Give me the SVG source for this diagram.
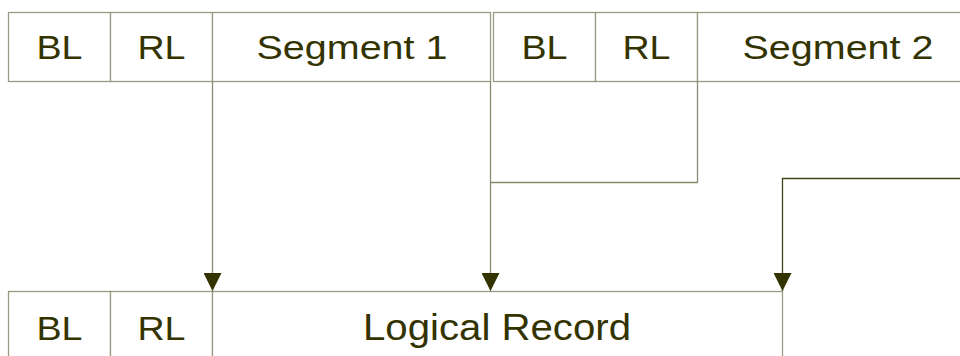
<svg xmlns="http://www.w3.org/2000/svg" width="960" height="356" viewBox="0 0 960 356">
  <style>
    .cell { fill: #ffffff; stroke: #9a9a82; stroke-width: 1.3; }
    .lbl { font-family: "Liberation Sans", Arial, sans-serif; font-size: 34px; fill: #333300; text-anchor: middle; }
    .big { font-size: 36px; }
    .conn { fill: none; stroke: #8a8a70; stroke-width: 1.3; }
    .conn-dark { fill: none; stroke: #44441c; stroke-width: 1.3; }
  </style>
  <defs>
    <marker id="arrow" viewBox="0 0 18 18" refX="18" refY="9" markerWidth="18" markerHeight="18" markerUnits="userSpaceOnUse" orient="auto">
      <path d="M0,0 L18,9 L0,18 Z" fill="#333300"/>
    </marker>
  </defs>

  <g id="segment1">
    <rect class="cell" x="8.5" y="12.5" width="102" height="69"/>
    <rect class="cell" x="110.5" y="12.5" width="102" height="69"/>
    <rect class="cell" x="212.5" y="12.5" width="278" height="69"/>
    <text class="lbl" x="59.5" y="59" textLength="46" lengthAdjust="spacingAndGlyphs">BL</text>
    <text class="lbl" x="161.5" y="59" textLength="48" lengthAdjust="spacingAndGlyphs">RL</text>
    <text class="lbl" x="352" y="59" textLength="191" lengthAdjust="spacingAndGlyphs">Segment 1</text>
  </g>

  <g id="segment2">
    <rect class="cell" x="493.5" y="12.5" width="102" height="69"/>
    <rect class="cell" x="595.5" y="12.5" width="102" height="69"/>
    <rect class="cell" x="697.5" y="12.5" width="290" height="69"/>
    <text class="lbl" x="544.5" y="59" textLength="46" lengthAdjust="spacingAndGlyphs">BL</text>
    <text class="lbl" x="646.5" y="59" textLength="48" lengthAdjust="spacingAndGlyphs">RL</text>
    <text class="lbl" x="838" y="59" textLength="191" lengthAdjust="spacingAndGlyphs">Segment 2</text>
  </g>

  <g id="logical-record">
    <rect class="cell" x="8.5" y="291.5" width="102" height="80"/>
    <rect class="cell" x="110.5" y="291.5" width="102" height="80"/>
    <rect class="cell" x="212.5" y="291.5" width="570" height="80"/>
    <text class="lbl" x="59.5" y="340" textLength="46" lengthAdjust="spacingAndGlyphs">BL</text>
    <text class="lbl" x="161.5" y="340" textLength="48" lengthAdjust="spacingAndGlyphs">RL</text>
    <text class="lbl big" x="497" y="340" textLength="268" lengthAdjust="spacingAndGlyphs">Logical Record</text>
  </g>

  <g id="connectors">
    <path class="conn" d="M212.5,81.5 V291" marker-end="url(#arrow)"/>
    <path class="conn" d="M697.5,81.5 V182.5 H490.5" />
    <path class="conn" d="M490.5,81.5 V291" marker-end="url(#arrow)"/>
    <path class="conn-dark" d="M960,178.5 H782.5 V291" marker-end="url(#arrow)"/>
  </g>
</svg>
